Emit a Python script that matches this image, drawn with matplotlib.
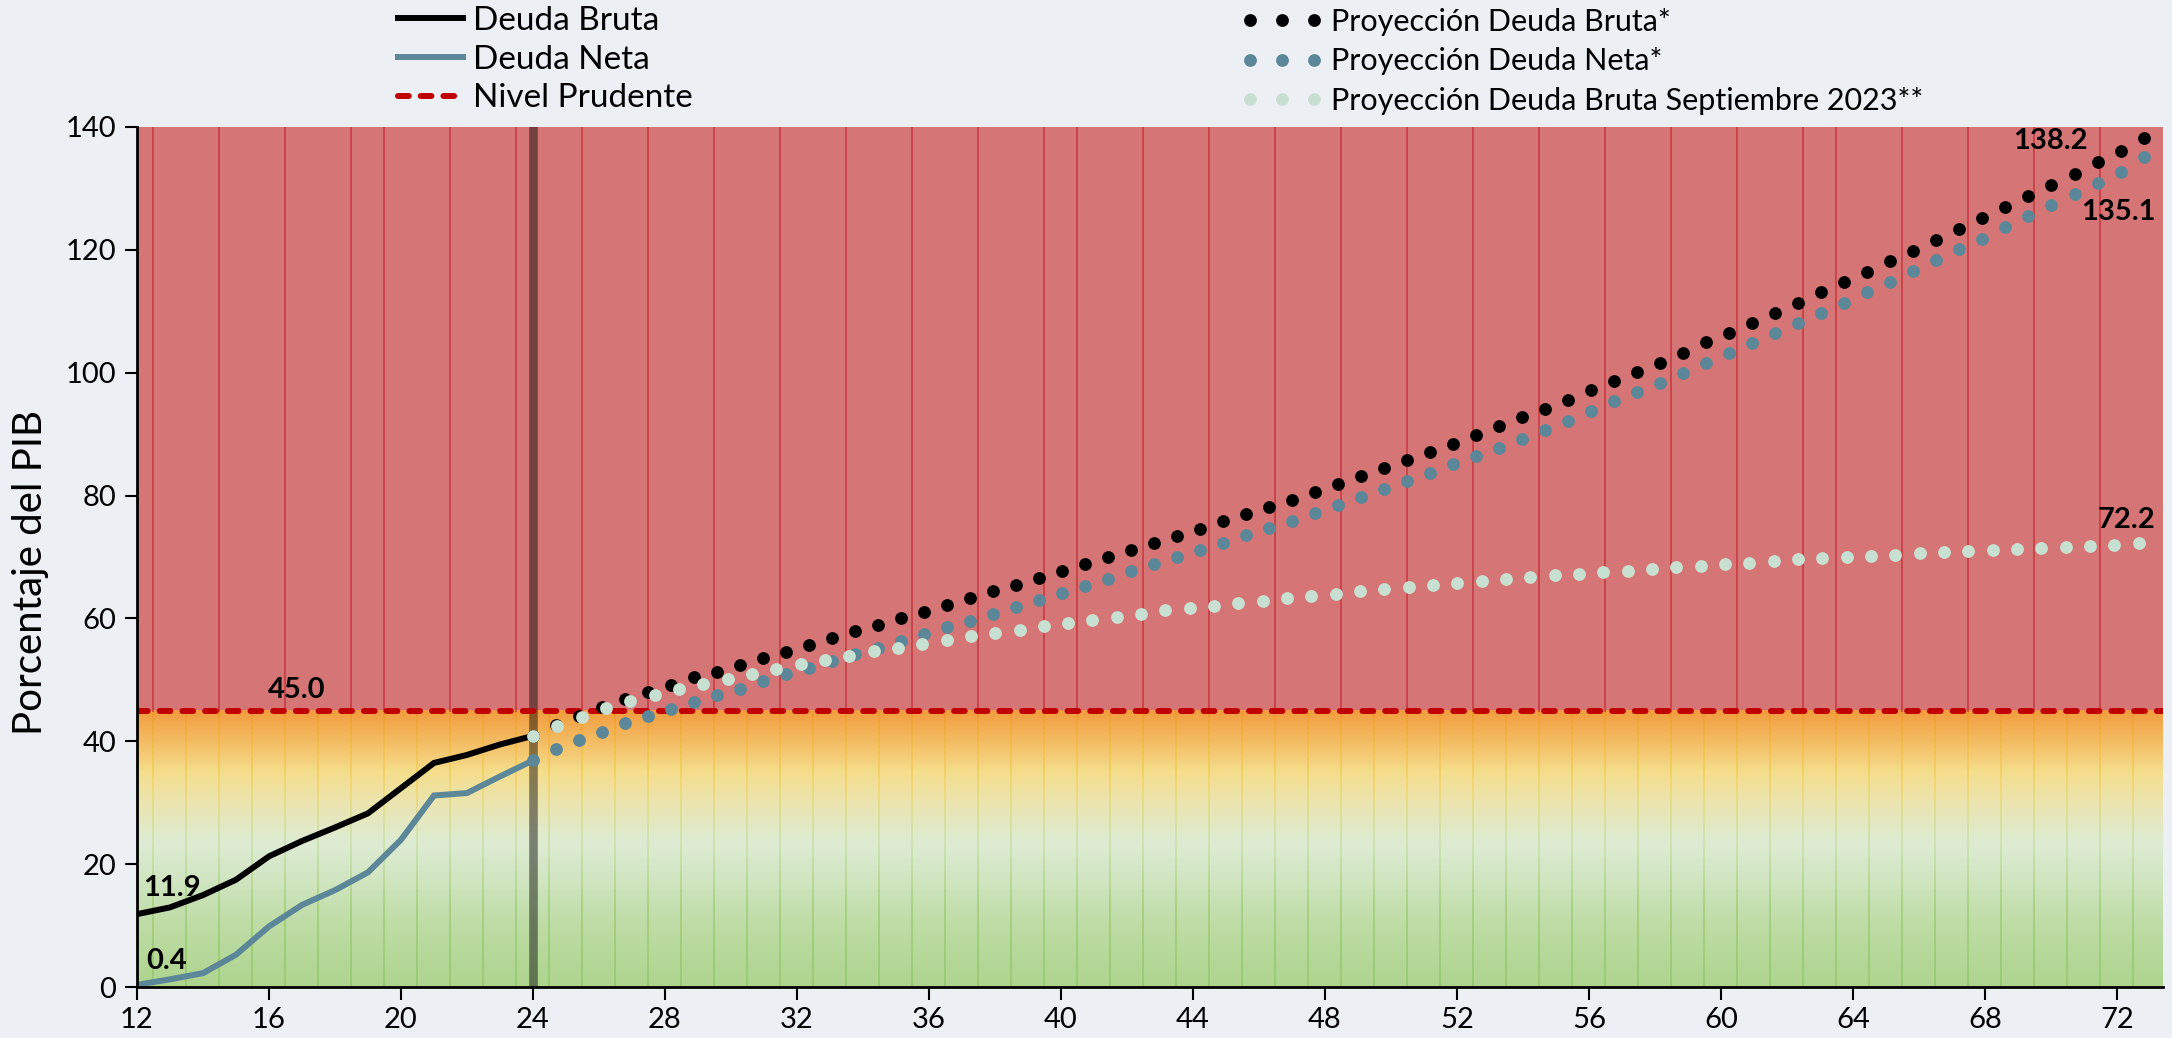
import numpy as np
import matplotlib
matplotlib.use("Agg")
import matplotlib.pyplot as plt
from matplotlib.lines import Line2D
from matplotlib.collections import LineCollection

plt.rcParams["font.family"] = ["Lato", "DejaVu Sans"]

# ---- data -----------------------------------------------------------------
hist_years = list(range(12, 25))
deuda_bruta = [11.9, 13.0, 15.0, 17.5, 21.3, 23.8, 26.0, 28.3, 32.4, 36.5, 37.8, 39.5, 40.9]
deuda_neta = [0.4, 1.3, 2.3, 5.3, 9.9, 13.4, 15.8, 18.7, 24.0, 31.2, 31.6, 34.3, 36.9]

proy_bruta = [40.9, 42.6, 44.1, 45.6, 46.9, 48.1, 49.2, 50.4, 51.3, 52.4,
              53.5, 54.6, 55.7, 56.8, 57.9, 58.9, 60.0, 61.1, 62.2, 63.3,
              64.4, 65.4, 66.6, 67.7, 68.8, 70.0, 71.1, 72.2, 73.4, 74.6,
              75.8, 77.0, 78.2, 79.3, 80.6, 81.8, 83.1, 84.4, 85.8, 87.1,
              88.4, 89.8, 91.3, 92.7, 94.1, 95.6, 97.1, 98.6, 100.1, 101.6,
              103.2, 104.9, 106.5, 108.1, 109.7, 111.4, 113.1, 114.7, 116.4, 118.2,
              119.8, 121.6, 123.4, 125.1, 126.9, 128.7, 130.5, 132.3, 134.2, 136.0,
              138.2]
proy_neta = [36.9, 38.7, 40.2, 41.6, 43.0, 44.2, 45.3, 46.4, 47.6, 48.6,
             49.8, 50.9, 52.0, 53.1, 54.2, 55.2, 56.4, 57.5, 58.6, 59.6,
             60.8, 61.9, 63.0, 64.1, 65.3, 66.5, 67.7, 68.8, 70.0, 71.1,
             72.3, 73.5, 74.7, 75.9, 77.2, 78.5, 79.8, 81.1, 82.4, 83.7,
             85.1, 86.4, 87.8, 89.2, 90.7, 92.2, 93.7, 95.3, 96.8, 98.3,
             99.9, 101.6, 103.2, 104.8, 106.4, 108.0, 109.7, 111.4, 113.1, 114.8,
             116.5, 118.3, 120.1, 121.8, 123.7, 125.5, 127.3, 129.1, 130.9, 132.7,
             135.1]
proy_sept2023 = [40.9, 42.5, 44.0, 45.5, 46.5, 47.6, 48.5, 49.3, 50.2, 51.0,
                 51.8, 52.6, 53.3, 53.9, 54.7, 55.2, 55.9, 56.5, 57.1, 57.6,
                 58.2, 58.7, 59.3, 59.8, 60.2, 60.8, 61.3, 61.7, 62.1, 62.5,
                 62.9, 63.3, 63.7, 64.0, 64.4, 64.8, 65.1, 65.4, 65.8, 66.1,
                 66.4, 66.7, 67.0, 67.3, 67.6, 67.8, 68.1, 68.4, 68.6, 68.9,
                 69.1, 69.3, 69.6, 69.8, 70.0, 70.2, 70.4, 70.6, 70.8, 71.0,
                 71.1, 71.3, 71.5, 71.6, 71.8, 72.0, 72.2]

nivel_prudente = 45.0
x_ticks = list(range(12, 73, 4))
y_ticks = list(range(0, 141, 20))

# ---- styling --------------------------------------------------------------
C_BRUTA = "#000000"
C_NETA = "#5B8798"
C_SEPT = "#C8E0D1"
C_PRUD = "#C00000"
C_RED_ZONE = "#D57576"
FIG_BG = "#ECEFF3"

X_MIN, X_MAX = 12, 73.4
Y_MIN, Y_MAX = 0, 140

W, H = 2172, 1038
fig = plt.figure(figsize=(W / 100, H / 100), dpi=100, facecolor=FIG_BG)
ax = fig.add_axes([137 / W, (H - 987.3) / H, (2163 - 137) / W, (987.3 - 126.7) / H])
ax.set_xlim(X_MIN, X_MAX)
ax.set_ylim(Y_MIN, Y_MAX)


def ramp(stops, y):
    lv = [s[0] for s in stops]
    return np.stack([np.interp(y, lv, [s[1][c] / 255 for s in stops]) for c in range(3)],
                    axis=-1)


# red zone above the prudent level
ax.axhspan(nivel_prudente, Y_MAX, color=C_RED_ZONE, zorder=0, lw=0)

# warm-to-green gradient below the prudent level
bg_stops = [(0.0, (174, 212, 142)), (10.0, (190, 220, 165)), (18.0, (210, 230, 195)),
            (23.5, (222, 236, 212)), (30.5, (236, 228, 172)), (35.0, (245, 222, 140)),
            (40.0, (244, 188, 98)), (45.0, (242, 156, 62))]
yy = np.linspace(0, nivel_prudente, 300)
grad = ramp(bg_stops, yy)[::-1, None, :]
ax.imshow(grad, extent=[X_MIN, X_MAX, 0, nivel_prudente], aspect="auto",
          interpolation="bilinear", zorder=0)

# yearly separators, tinted like the band they cross
ln_stops = [(0.0, (148, 202, 110)), (12.0, (160, 208, 122)), (24.0, (205, 228, 175)),
            (33.0, (242, 212, 110)), (38.0, (246, 196, 80)), (45.0, (240, 150, 40))]
yb = np.linspace(0, nivel_prudente, 46)
seg_cols = ramp(ln_stops, (yb[:-1] + yb[1:]) / 2)
segs, cols = [], []
for xv in np.arange(12.5, X_MAX, 1.0):
    for i in range(len(yb) - 1):
        segs.append([(xv, yb[i]), (xv, yb[i + 1])])
        cols.append(seg_cols[i])
ax.add_collection(LineCollection(segs, colors=cols, linewidths=1.3, zorder=1,
                                 capstyle="butt"))
red_sep = [12.5, 14.5, 16.5, 18.5] + list(np.arange(19.5, 40, 2)) \
    + list(np.arange(40.5, 63, 2)) + list(np.arange(63.5, 73, 2))
for xv in red_sep:
    ax.plot([xv, xv], [nivel_prudente, Y_MAX], color="#C8373C", lw=1.3, alpha=0.85, zorder=1)

# marker of the last observed year
ax.axvline(24, color="black", alpha=0.45, lw=6.2, zorder=2)

# prudent level
ax.axhline(nivel_prudente, color=C_PRUD, lw=4.3, dashes=(1.8, 2.0),
           dash_capstyle="round", zorder=3)

# observed series
ax.plot(hist_years, deuda_bruta, color=C_BRUTA, lw=4.3, zorder=4, solid_joinstyle="miter")
ax.plot(hist_years, deuda_neta, color=C_NETA, lw=4.3, zorder=4, solid_joinstyle="miter")


# projections on their own horizontal scales, starting at the last observed year
def proj_axis(n, x_end):
    a = ax.twiny()
    step = (x_end - 24) / (n - 1)
    a.set_xlim((X_MIN - 24) / step, (X_MAX - 24) / step)
    a.set_ylim(Y_MIN, Y_MAX)
    a.axis("off")
    return a


MS = 9.2
ax_p = proj_axis(len(proy_bruta), 72.81)
ax_p.plot(range(len(proy_bruta)), proy_bruta, ls="none", marker="o", ms=MS,
          color=C_BRUTA, mec="none")
ax_p.plot(range(len(proy_neta)), proy_neta, ls="none", marker="o", ms=MS,
          color=C_NETA, mec="none")
ax_s = proj_axis(len(proy_sept2023), 72.66)
ax_s.plot(range(len(proy_sept2023)), proy_sept2023, ls="none", marker="o", ms=MS,
          color=C_SEPT, mec="none")

# value labels
lab = dict(fontsize=21, fontweight="bold", color="black", ha="center", va="center", zorder=6)
ax.text(16.85, 48.3, f"{nivel_prudente:.1f}", **lab)
ax.text(13.05, 16.2, f"{deuda_bruta[0]:.1f}", **lab)
ax.text(12.9, 4.3, f"{deuda_neta[0]:.1f}", **lab)
ax.text(70.0, 137.7, f"{proy_bruta[-1]:.1f}", **lab)
ax.text(72.05, 126.2, f"{proy_neta[-1]:.1f}", **lab)
ax.text(72.3, 76.0, f"{proy_sept2023[-1]:.1f}", **lab)

# axes
ax.set_xticks(x_ticks)
ax.set_yticks(y_ticks)
ax.tick_params(axis="both", labelsize=21, length=9, width=1.5, color="black")
ax.tick_params(axis="x", pad=5)
ax.tick_params(axis="y", pad=6)
for s in ("top", "right"):
    ax.spines[s].set_visible(False)
for s in ("left", "bottom"):
    ax.spines[s].set_linewidth(2)
    ax.spines[s].set_zorder(7)
ax.set_ylabel("Porcentaje del PIB", fontsize=29)
ax.yaxis.set_label_coords((49 - 137) / (2163 - 137), 0.482)

# legends
h_left = [Line2D([], [], color=C_BRUTA, lw=4.3),
          Line2D([], [], color=C_NETA, lw=4.3),
          Line2D([], [], color=C_PRUD, lw=4.3, dashes=(1.8, 2.0), dash_capstyle="round")]
fig.legend(h_left, ["Deuda Bruta", "Deuda Neta", "Nivel Prudente"],
           loc="upper left", bbox_to_anchor=(398 / W, (H - 6) / H), frameon=False,
           fontsize=24, handlelength=1.95, handletextpad=0.3, labelspacing=0.26,
           borderpad=0, borderaxespad=0)
h_right = [Line2D([], [], ls="none", marker="o", ms=MS, color=C_BRUTA, mec="none"),
           Line2D([], [], ls="none", marker="o", ms=MS, color=C_NETA, mec="none"),
           Line2D([], [], ls="none", marker="o", ms=MS, color=C_SEPT, mec="none")]
fig.legend(h_right, ["Proyección Deuda Bruta*", "Proyección Deuda Neta*",
                     "Proyección Deuda Bruta Septiembre 2023**"],
           loc="upper left", bbox_to_anchor=(1241 / W, (H - 8) / H), frameon=False,
           fontsize=22, numpoints=3, handlelength=2.7, handletextpad=0.25,
           labelspacing=0.37, borderpad=0, borderaxespad=0)

fig.savefig("out.png", dpi=100, facecolor=FIG_BG)
